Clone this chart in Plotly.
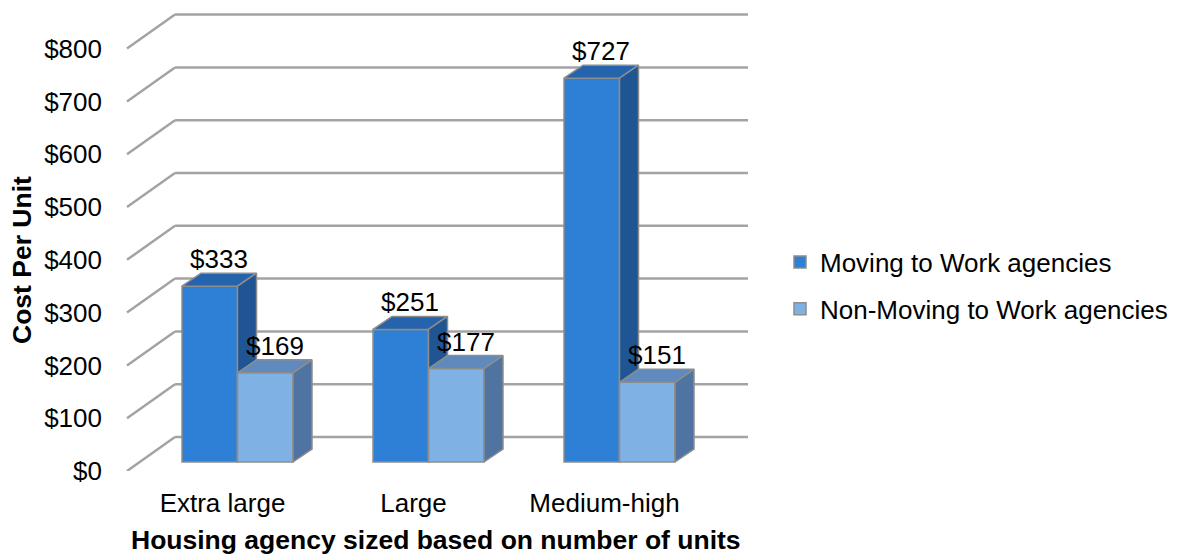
import plotly.graph_objects as go

# --- data -------------------------------------------------------------
categories = ["Extra large", "Large", "Medium-high"]
series_names = ["Moving to Work agencies", "Non-Moving to Work agencies"]
mtw_values = [333, 251, 727]
non_mtw_values = [169, 177, 151]
y_ticks = [0, 100, 200, 300, 400, 500, 600, 700, 800]
y_tick_labels = ["$0", "$100", "$200", "$300", "$400", "$500", "$600", "$700", "$800"]

# --- geometry (pixel-based layout of the pseudo-3D frame) --------------
W, H = 1182, 556
M_L, M_R, M_T, M_B = 120, 422, 4, 85
PX_PER_UNIT = 0.528          # vertical pixels per dollar
GROUP_PX = 191.0             # horizontal pixels between category groups
X0_PX = 237.5                # pixel x of the first group's centre


def dx(px):
    return px / GROUP_PX


def dy(px):
    return px / PX_PER_UNIT


def px_to_x(px):
    return (px - X0_PX) / GROUP_PX


BAR_W = dx(55.5)
BAR_BASE = dy(9)                 # bars stand slightly behind the floor edge
DEPTH_X, DEPTH_Y = dx(19), dy(13)
WALL_X, WALL_Y = dx(48), dy(34)
X_LEFT = px_to_x(127)
X_RIGHT = px_to_x(748)
LABEL_SHIFT = dx(15)

FONT = "Arial, Liberation Sans, sans-serif"
FS = 26
FS_TITLE = 26.5
GRID = "#a3a3a3"
EDGE = "#8d8d8d"

styles = [
    dict(front="#2e80d6", top="#2563ad", side="#1f5592"),
    dict(front="#7fb1e5", top="#6089bd", side="#4f74a1"),
]

fig = go.Figure()

# back wall and left wall gridlines
shapes = []
for v in y_ticks:
    shapes.append(dict(type="line", xref="x", yref="y", layer="below",
                       x0=X_LEFT, y0=v, x1=X_LEFT + WALL_X, y1=v + WALL_Y,
                       line=dict(color=GRID, width=2.5)))
    shapes.append(dict(type="line", xref="x", yref="y", layer="below",
                       x0=X_LEFT + WALL_X, y0=v + WALL_Y, x1=X_RIGHT, y1=v + WALL_Y,
                       line=dict(color=GRID, width=2.5)))

annotations = []
z = 0
for s, (name, vals) in enumerate(zip(series_names, [mtw_values, non_mtw_values])):
    st = styles[s]
    centers = [k + (s - 0.5) * BAR_W for k in range(len(categories))]
    # front faces
    fig.add_trace(go.Bar(
        x=centers, y=vals, base=[BAR_BASE] * len(vals), width=BAR_W,
        name=name, legendgroup=name,
        marker=dict(color=st["front"], line=dict(color=EDGE, width=1.5)),
        zorder=z, hovertemplate="$%{y}<extra>" + name + "</extra>",
    ))
    z += 1
    for c, v in zip(centers, vals):
        x0, x1 = c - BAR_W / 2, c + BAR_W / 2
        top = BAR_BASE + v
        # top face
        fig.add_trace(go.Scatter(
            x=[x0, x1, x1 + DEPTH_X, x0 + DEPTH_X, x0],
            y=[top, top, top + DEPTH_Y, top + DEPTH_Y, top],
            mode="lines", fill="toself", fillcolor=st["top"],
            line=dict(color=EDGE, width=1.5), showlegend=False,
            hoverinfo="skip", zorder=z))
        # side face
        fig.add_trace(go.Scatter(
            x=[x1, x1 + DEPTH_X, x1 + DEPTH_X, x1, x1],
            y=[BAR_BASE, BAR_BASE + DEPTH_Y, top + DEPTH_Y, top, BAR_BASE],
            mode="lines", fill="toself", fillcolor=st["side"],
            line=dict(color=EDGE, width=1.5), showlegend=False,
            hoverinfo="skip", zorder=z))
        annotations.append(dict(
            x=c + DEPTH_X / 2, y=top + DEPTH_Y, xref="x", yref="y",
            text=f"${v}", showarrow=False, yanchor="middle", yshift=14,
            font=dict(family=FONT, size=FS, color="black")))
    z += 1

# axis titles
annotations.append(dict(
    text="<b>Housing agency sized based on number of units</b>",
    xref="paper", yref="paper", x=(436 - M_L) / (W - M_L - M_R),
    y=-(540 - (H - M_B)) / (H - M_T - M_B), showarrow=False,
    xanchor="center", yanchor="middle",
    font=dict(family=FONT, size=FS_TITLE, color="black")))
annotations.append(dict(
    text="<b>Cost Per Unit</b>", textangle=-90,
    xref="paper", yref="paper", x=-(M_L - 22) / (W - M_L - M_R),
    y=((H - M_B) - 260) / (H - M_T - M_B), showarrow=False,
    xanchor="center", yanchor="middle",
    font=dict(family=FONT, size=FS_TITLE, color="black")))

fig.update_layout(
    width=W, height=H,
    margin=dict(l=M_L, r=M_R, t=M_T, b=M_B),
    paper_bgcolor="white", plot_bgcolor="white",
    barmode="overlay",
    font=dict(family=FONT, size=FS, color="black"),
    shapes=shapes, annotations=annotations,
    legend=dict(x=(780 - M_L) / (W - M_L - M_R), y=((H - M_B) - 285.5) / (H - M_T - M_B),
                xanchor="left", yanchor="middle", tracegroupgap=10,
                font=dict(family=FONT, size=FS, color="black"),
                bgcolor="rgba(0,0,0,0)"),
    xaxis=dict(range=[px_to_x(M_L), px_to_x(W - M_R)],
               tickvals=[k - LABEL_SHIFT for k in range(len(categories))],
               ticktext=categories, showgrid=False, zeroline=False,
               showline=False, ticks="", ticklabelstandoff=14,
               tickfont=dict(family=FONT, size=FS, color="black")),
    yaxis=dict(range=[0, dy(H - M_B - M_T)], tickvals=y_ticks,
               ticktext=y_tick_labels, showgrid=False, zeroline=False,
               showline=False, ticks="", ticklabelstandoff=17,
               tickfont=dict(family=FONT, size=FS, color="black")),
    showlegend=True,
)

fig.write_html("out.html")
